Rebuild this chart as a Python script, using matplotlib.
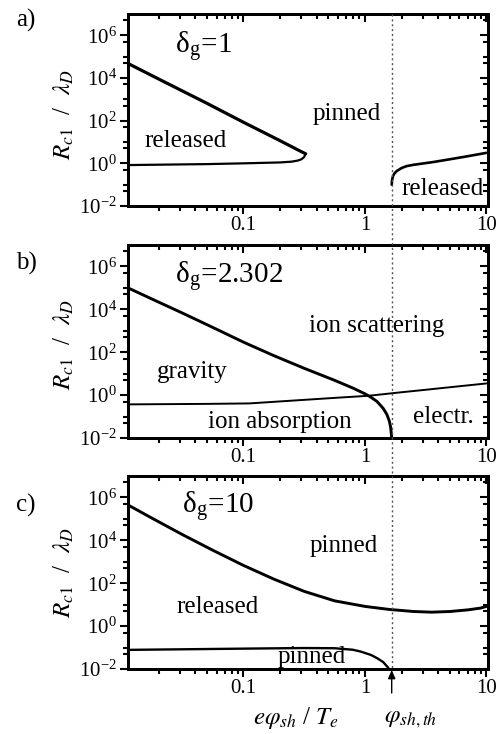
import numpy as np
import matplotlib
matplotlib.use("Agg")
import matplotlib.pyplot as plt
from matplotlib.ticker import FixedLocator, FuncFormatter, NullFormatter, LogLocator
from matplotlib.lines import Line2D
from matplotlib.patches import FancyArrowPatch

plt.rcParams["font.family"] = ["Liberation Serif", "DejaVu Serif"]
plt.rcParams["mathtext.fontset"] = "stix"

W, H = 497, 734

# --- data ---------------------------------------------------------------
# a) delta_g = 1
xa_up = [0.0112, 0.02, 0.05, 0.1, 0.2, 0.3, 0.325]
ya_up = [4.8e4, 9.0e3, 6.5e2, 84, 11.5, 3.5, 2.8]
xa_lo = [0.0112, 0.05, 0.1, 0.2, 0.25, 0.28, 0.3, 0.315, 0.325]
ya_lo = [0.83, 0.92, 1.0, 1.1, 1.2, 1.35, 1.55, 1.95, 2.8]
xa_r = [1.66, 1.67, 1.7, 1.75, 1.83, 2.0, 2.2, 2.5, 3.65, 5.0, 7.0, 10.0]
ya_r = [0.1, 0.16, 0.25, 0.34, 0.44, 0.6, 0.74, 0.85, 1.15, 1.55, 2.15, 3.1]

# b) delta_g = 2.302
xb_up = [0.0112, 0.0178, 0.0316, 0.0562, 0.1, 0.178, 0.316, 0.562, 0.794,
         1.0, 1.122, 1.259, 1.413, 1.514, 1.585, 1.622, 1.641, 1.66]
yb_up = [1.0e5, 2.95e4, 6.6e3, 1.41e3, 295, 69, 17.8, 4.9, 2.14,
         1.15, 0.79, 0.5, 0.24, 0.126, 0.063, 0.035, 0.02, 0.01]
xb_lo = [0.0112, 0.05, 0.112, 0.3, 0.6, 1.07, 2.0, 3.0, 5.0, 10.0]
yb_lo = [0.37, 0.39, 0.41, 0.59, 0.76, 0.93, 1.36, 1.72, 2.33, 3.5]

# c) delta_g = 10
xc_up = [0.0112, 0.0178, 0.0316, 0.0562, 0.1, 0.178, 0.316, 0.562, 1.0,
         1.58, 2.51, 3.55, 5.01, 7.08, 8.91, 10.0]
yc_up = [4.47e5, 1.05e5, 1.82e4, 3.39e3, 676, 155, 41.7, 15.1, 8.3,
         6.0, 4.8, 4.47, 4.8, 5.75, 6.9, 8.3]
xc_lo = [0.0112, 0.1, 0.316, 0.562, 0.794, 0.912, 1.0, 1.122, 1.259,
         1.413, 1.514, 1.549, 1.567]
yc_lo = [0.078, 0.089, 0.095, 0.093, 0.079, 0.066, 0.056, 0.045, 0.032,
         0.021, 0.0135, 0.0117, 0.01]

y_major = [1e-2, 1e0, 1e2, 1e4, 1e6]
y_minor = [5e-2, 1e-1, 5e-1, 5e0, 1e1, 5e1, 5e2, 1e3, 5e3, 5e4, 1e5, 5e5, 5e6]
x_major = [0.1, 1, 10]
x_labels = ["0.1", "1", "10"]
XLIM = (0.0112, 10.3)
YLIM = (1e-2, 1e7)


def px(x, y):
    return x / W, 1 - y / H


def ticks(a, axis, direction):
    a.tick_params(axis=axis, which="both", width=1.5, direction=direction)
    a.tick_params(axis=axis, which="major", length=6)
    a.tick_params(axis=axis, which="minor", length=3.5)


def setup(ax):
    ax.set_xscale("log")
    ax.set_yscale("log")
    ax.set_xlim(*XLIM)
    ax.set_ylim(*YLIM)
    ax.yaxis.set_major_locator(FixedLocator(y_major))
    ax.yaxis.set_minor_locator(FixedLocator(y_minor))
    ax.yaxis.set_major_formatter(FuncFormatter(
        lambda v, p: r"$\mathregular{10^{%d}}$" % round(np.log10(v))))
    ax.yaxis.set_minor_formatter(NullFormatter())
    ax.xaxis.set_major_locator(FixedLocator(x_major))
    ax.xaxis.set_minor_locator(LogLocator(subs=np.arange(2, 10)))
    ax.xaxis.set_major_formatter(FuncFormatter(
        lambda v, p: x_labels[x_major.index(v)] if v in x_major else ""))
    ax.xaxis.set_minor_formatter(NullFormatter())
    ticks(ax, "x", "out")
    ticks(ax, "y", "out")
    ax.tick_params(labelsize=15)
    ax.tick_params(axis="x", pad=1)
    ax.tick_params(axis="y", pad=2)

    # inward ticks on the top and right sides
    tx = ax.twiny()
    tx.set_xscale("log")
    tx.set_xlim(*XLIM)
    tx.xaxis.set_major_locator(FixedLocator(x_major))
    tx.xaxis.set_minor_locator(LogLocator(subs=np.arange(2, 10)))
    tx.xaxis.set_major_formatter(NullFormatter())
    tx.xaxis.set_minor_formatter(NullFormatter())
    ticks(tx, "x", "in")

    ty = ax.twinx()
    ty.set_yscale("log")
    ty.set_ylim(*YLIM)
    ty.yaxis.set_major_locator(FixedLocator(y_major))
    ty.yaxis.set_minor_locator(FixedLocator(y_minor))
    ty.yaxis.set_major_formatter(NullFormatter())
    ty.yaxis.set_minor_formatter(NullFormatter())
    ticks(ty, "y", "in")

    for a in (ax, tx, ty):
        for s in a.spines.values():
            s.set_linewidth(2.0)


fig = plt.figure(figsize=(W / 100, H / 100), dpi=100)
L, Wd = 128 / W, 360 / W
ax_a = fig.add_axes([L, 1 - 206 / H, Wd, 192 / H])
ax_b = fig.add_axes([L, 1 - 438 / H, Wd, 193 / H])
ax_c = fig.add_axes([L, 1 - 669 / H, Wd, 193 / H])
for ax in (ax_a, ax_b, ax_c):
    setup(ax)

K = "black"
ax_a.plot(xa_up, ya_up, color=K, lw=2.3, solid_capstyle="round")
ax_a.plot(xa_lo, ya_lo, color=K, lw=1.6, solid_capstyle="round")
ax_a.plot(xa_r, ya_r, color=K, lw=1.9, solid_capstyle="round")

ax_b.plot(xb_up, yb_up, color=K, lw=2.1, solid_capstyle="round")
ax_b.plot(xb_lo, yb_lo, color=K, lw=1.4, solid_capstyle="round")

ax_c.plot(xc_up, yc_up, color=K, lw=2.1, solid_capstyle="round")
ax_c.plot(xc_lo, yc_lo, color=K, lw=1.7, solid_capstyle="round")

# dotted threshold line through all panels
x0, y0 = px(391.7, 14)
_, y1 = px(391.7, 669)
fig.add_artist(Line2D([x0, x0], [y0, y1], color="#555555", lw=1.0,
                      linestyle=(0, (1.5, 2.0))))

# arrow marking phi_sh,th
fig.add_artist(FancyArrowPatch(
    px(391.7, 693), px(391.7, 670), transform=fig.transFigure,
    arrowstyle="-|>,head_length=5,head_width=2.2", color=K, lw=1.0,
    shrinkA=0, shrinkB=0))

TS = 18
# panel labels
for lbl, yy in (("a)", 27), ("b)", 270), ("c)", 512)):
    fig.text(*px(16, yy), lbl, fontsize=TS, ha="left", va="baseline")

# y labels
for yy in (115, 345, 573):
    fig.text(*px(64, yy), r"$R_{c1}$  /  $\lambda_D$", fontsize=TS,
             rotation=90, ha="center", va="center")

# x labels
fig.text(*px(296, 724), r"$e\varphi_{sh}$ / $T_e$", fontsize=TS,
         ha="center", va="baseline")
fig.text(*px(411, 722), r"$\varphi_{sh,th}$", fontsize=TS,
         ha="center", va="baseline")

# region labels
fig.text(*px(175, 53), r"δ$_{\mathregular{g}}$=1", fontsize=21, ha="left", va="baseline")
fig.text(*px(186, 147), "released", fontsize=TS, ha="center", va="baseline")
fig.text(*px(347, 120), "pinned", fontsize=TS, ha="center", va="baseline")
fig.text(*px(443, 195), "released", fontsize=TS, ha="center", va="baseline")

fig.text(*px(175, 283), r"δ$_{\mathregular{g}}$=2.302", fontsize=21, ha="left", va="baseline")
fig.text(*px(377, 332), "ion scattering", fontsize=TS, ha="center", va="baseline")
fig.text(*px(192, 378), "gravity", fontsize=TS, ha="center", va="baseline")
fig.text(*px(280, 428), "ion absorption", fontsize=TS, ha="center", va="baseline")
fig.text(*px(443, 423), "electr.", fontsize=TS, ha="center", va="baseline")

fig.text(*px(182, 513), r"δ$_{\mathregular{g}}$=10", fontsize=21, ha="left", va="baseline")
fig.text(*px(344, 552), "pinned", fontsize=TS, ha="center", va="baseline")
fig.text(*px(218, 613), "released", fontsize=TS, ha="center", va="baseline")
fig.text(*px(312, 663), "pinned", fontsize=TS, ha="center", va="baseline")

fig.savefig("out.png", dpi=100, facecolor="white")
